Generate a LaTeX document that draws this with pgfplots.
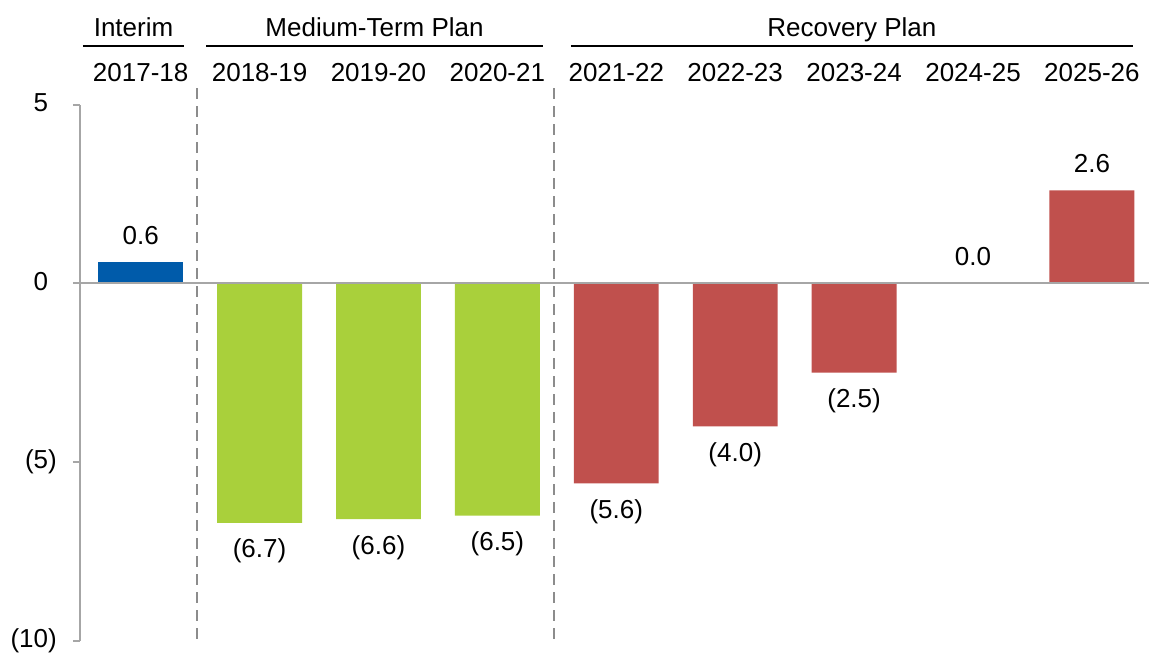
\documentclass[border=0pt]{standalone}
\usepackage{pgfplots}
\pgfplotsset{compat=1.18}
\usepackage{fontspec}
\setmainfont{Liberation Sans}
\definecolor{cblue}{RGB}{0,91,170}
\definecolor{cgreen}{RGB}{169,208,59}
\definecolor{cred}{RGB}{192,80,77}
\definecolor{axgray}{RGB}{166,166,166}
\definecolor{dashgray}{RGB}{140,140,140}
\begin{document}
\fontsize{26}{31}\selectfont
\begin{tikzpicture}
\begin{axis}[
 scale only axis, width=1069pt, height=536.1pt,
 xmin=-0.51, xmax=8.48, ymin=-10, ymax=5,
 axis x line=none, axis y line=left,
 axis line style={-, axgray, line width=2pt},
 ytick={-10,-5,0,5},
 yticklabels={(10),(5),0\phantom{)},5\phantom{)}},
 tick align=outside, major tick length=7pt,
 ytick style={axgray, line width=2pt},
 yticklabel style={font=\fontsize{26}{31}\selectfont, inner sep=0pt, anchor=east, xshift=-16pt},
 ybar, bar shift=0pt, bar width=0.714,
 clip=false,
 point meta=explicit symbolic,
 nodes near coords={\pgfplotspointmeta},
]
\addplot[fill=cblue, draw=none, nodes near coords align={above},
  every node near coord/.append style={anchor=south, inner sep=0pt, yshift=17pt, font=\fontsize{26}{31}\selectfont, text=black}]
  table[x=x, y=y, meta=lab] {
x y lab
0 0.6 0.6
};
\addplot[fill=cgreen, draw=none, nodes near coords align={below},
  every node near coord/.append style={anchor=north, inner sep=0pt, yshift=-16pt, font=\fontsize{26}{31}\selectfont, text=black}]
  table[x=x, y=y, meta=lab] {
x y lab
1 -6.7 (6.7)
2 -6.6 (6.6)
3 -6.5 (6.5)
};
\addplot[fill=cred, draw=none, nodes near coords align={below},
  every node near coord/.append style={anchor=north, inner sep=0pt, yshift=-16pt, font=\fontsize{26}{31}\selectfont, text=black}]
  table[x=x, y=y, meta=lab] {
x y lab
4 -5.6 (5.6)
5 -4.0 (4.0)
6 -2.5 (2.5)
};
\addplot[fill=cred, draw=none, nodes near coords align={above},
  every node near coord/.append style={anchor=south, inner sep=0pt, yshift=17pt, font=\fontsize{26}{31}\selectfont, text=black}]
  table[x=x, y=y, meta=lab] {
x y lab
7 0.0 0.0
8 2.6 2.6
};
\draw[axgray, line width=2pt] (axis cs:-0.51,0) -- (axis cs:8.48,0);
\draw[dashgray, line width=2pt, dash pattern=on 11pt off 7pt] (axis cs:0.473,5.46) -- (axis cs:0.473,-10);
\draw[dashgray, line width=2pt, dash pattern=on 11pt off 7pt] (axis cs:3.478,5.46) -- (axis cs:3.478,-10);
% year labels
\node[anchor=base] at (axis cs:0,5.641) {2017-18};
\node[anchor=base] at (axis cs:1,5.641) {2018-19};
\node[anchor=base] at (axis cs:2,5.641) {2019-20};
\node[anchor=base] at (axis cs:3,5.641) {2020-21};
\node[anchor=base] at (axis cs:4,5.641) {2021-22};
\node[anchor=base] at (axis cs:5,5.641) {2022-23};
\node[anchor=base] at (axis cs:6,5.641) {2023-24};
\node[anchor=base] at (axis cs:7,5.641) {2024-25};
\node[anchor=base] at (axis cs:8,5.641) {2025-26};
% group labels and underlines
\draw[black, line width=2pt] (axis cs:-0.486,6.64) -- (axis cs:0.366,6.64);
\draw[black, line width=2pt] (axis cs:0.551,6.64) -- (axis cs:3.383,6.64);
\draw[black, line width=2pt] (axis cs:3.618,6.64) -- (axis cs:8.345,6.64);
\node[anchor=base] at (axis cs:-0.06,6.919) {Interim};
\node[anchor=base] at (axis cs:1.967,6.919) {Medium-Term Plan};
\node[anchor=base] at (axis cs:5.981,6.919) {Recovery Plan};
\end{axis}
\pgfresetboundingbox
\path[use as bounding box] ([shift={(-80pt,-15.3pt)}]current axis.south west) rectangle ([shift={(0pt,104.6pt)}]current axis.north east);
\end{tikzpicture}
\end{document}
